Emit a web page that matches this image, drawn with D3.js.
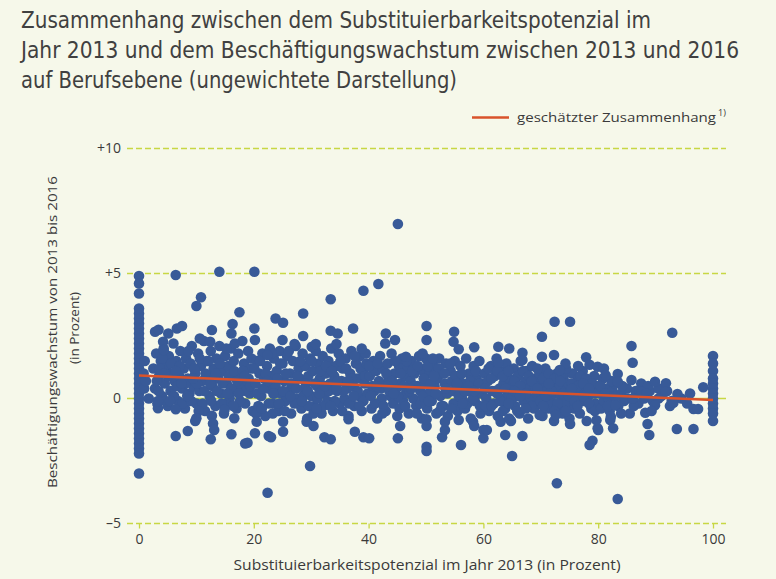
<!DOCTYPE html>
<html>
<head>
<meta charset="utf-8">
<script src="https://cdn.jsdelivr.net/npm/d3@7"></script>
<style>
html,body{margin:0;padding:0;background:#ffffff;}
svg{display:block;}
</style>
</head>
<body>
<div id="chart"></div>
<script>
// ---------- DATA ----------
const titleLines = [
  "Zusammenhang zwischen dem Substituierbarkeitspotenzial im",
  "Jahr 2013 und dem Beschäftigungswachstum zwischen 2013 und 2016",
  "auf Berufsebene (ungewichtete Darstellung)"
];
const legendLabel = "geschätzter Zusammenhang";
const legendNote = "1)";
const yAxisTitle = ["Beschäftigungswachstum von 2013 bis 2016", "(in Prozent)"];
const xAxisTitle = "Substituierbarkeitspotenzial im Jahr 2013 (in Prozent)";

const xTicks = [0, 20, 40, 60, 80, 100];
const xTickLabels = ["0", "20", "40", "60", "80", "100"];
const yTicks = [10, 5, 0, -5];
const yTickLabels = ["+10", "+5", "0", "\u20135"];

// estimated regression line (x, y)
const trendX = [0, 100];
const trendY = [0.92, -0.06];

// occupations with 0 % substitutability
const col0Y = [4.9, 4.6, 4.2, 3.6, 3.4, 3.2, 3.0, 2.8, 2.6, 2.4, 2.2, 2.0, 1.8, 1.6, 1.4, 1.2, 1.0, 0.8, 0.6, 0.4, 0.2, 0.0,
  -0.2, -0.4, -0.6, -0.8, -1.0, -1.2, -1.4, -1.6, -1.8, -2.0, -2.2, -3.0];
// occupations with 100 % substitutability
const col100Y = [1.7, 1.4, 1.1, 0.8, 0.6, 0.4, 0.2, 0.0, -0.2, -0.4, -0.6, -0.9];

// remaining occupations [x, y]
const pointsA = [[0.8,1.0],[0.9,0.4],[1.0,1.5],[1.2,0.7],[1.7,0.0],
  [2.5,1.2],[2.8,0.4],[3.0,1.8],[3.2,-0.2],[3.5,0.9],[3.8,1.5],[4.0,0.1],[4.3,2.0],[4.5,0.6],[4.8,1.3],[5.0,-0.3],[5.2,1.7],[5.5,0.3],[5.8,1.0],[6.0,2.2],[6.2,0.7],[6.5,1.5],[6.8,-0.1],[7.0,0.9],[7.2,1.9],[7.5,0.4],[7.8,1.2],[8.0,-0.4],[8.2,1.6],[8.5,0.8],[8.8,0.2],[9.0,1.4],[9.2,2.1],[9.5,0.5],[9.8,1.0],[10.0,-0.2],[10.3,1.8],[10.5,0.3],[10.8,1.3],[11.0,0.7],[11.3,2.3],[11.5,-0.5],[11.8,1.5],[12.0,0.9],[12.3,0.1],[12.5,1.9],[12.8,0.5],[13.0,1.2],[13.3,-0.3],[13.5,1.6],[13.8,0.8],[14.0,2.1],[14.3,0.2],[14.5,1.1],[14.8,-0.6],[15.0,1.7],[15.3,0.6],[15.5,1.3],[15.8,0.0],[16.0,2.0],[16.3,0.9],[16.5,1.5],[16.8,0.3],[17.0,-0.4],[17.3,1.8],[17.5,1.0],[17.8,0.5],[18.0,2.3],[18.3,1.4],[18.5,-0.2],[18.8,0.7],[19.0,1.9],[19.3,0.2],[19.5,1.2],[19.8,-0.5]];
const pointsA2 = [[3.1,0.7],[3.6,1.2],[4.1,1.6],[4.6,-0.1],[5.1,0.9],[5.6,1.4],[6.1,0.1],[6.6,0.5],[7.1,1.3],[7.6,-0.2],[8.1,0.6],[8.6,1.9],[9.1,-0.1],[9.6,1.2],[10.1,0.6],[10.6,1.6],[11.1,-0.2],[11.6,1.0],[12.1,1.5],[12.6,-0.1],[13.1,0.8],[13.6,0.3],[14.1,1.4],[14.6,0.6],[15.1,-0.2],[15.6,0.9],[16.1,0.4],[16.6,1.1],[17.1,0.7],[17.6,-0.1],[18.1,1.1],[18.6,0.3],[19.1,0.8],[19.6,1.6]];
const pointsA3 = [[3.4,0.3],[4.4,1.0],[5.4,-0.1],[6.4,1.1],[7.4,0.6],[8.4,0.1],[9.4,0.8],[10.4,-0.5],[11.4,0.3],[12.4,0.6],[13.4,1.0],[14.4,-0.2],[15.4,0.2],[16.4,-0.3],[17.4,0.2],[18.4,0.9],[19.4,0.5]];
const pointsB = [[20.3,0.6],[20.5,1.5],[20.8,-0.3],[21.0,1.0],[21.3,0.1],[21.5,1.8],[21.8,0.8],[22.0,-0.7],[22.3,1.3],[22.5,0.4],[22.8,2.0],[23.0,0.9],[23.3,-0.2],[23.5,1.6],[23.8,0.5],[24.0,1.1],[24.3,-0.5],[24.5,1.9],[24.8,0.2],[25.0,1.4],[25.3,0.7],[25.5,-0.1],[25.8,1.7],[26.0,0.3],[26.3,1.0],[26.5,-0.6],[26.8,1.5],[27.0,0.6],[27.3,2.1],[27.5,0.0],[27.8,1.2],[28.0,0.8],[28.3,-0.4],[28.5,1.8],[28.8,0.4],[29.0,1.3],[29.3,-0.8],[29.5,0.9],[29.8,1.6],[30.0,0.1],[30.3,1.1],[30.5,-0.3],[30.8,1.9],[31.0,0.5],[31.3,1.4],[31.5,0.8],[31.8,-0.6],[32.0,1.7],[32.3,0.2],[32.5,1.0],[32.8,-0.1],[33.0,1.5],[33.3,0.6],[33.5,2.0],[33.8,-0.5],[34.0,0.9],[34.3,1.3],[34.5,0.3],[34.8,1.8],[35.0,-0.2],[35.3,0.7],[35.5,1.2],[35.8,0.0],[36.0,1.6],[36.3,0.4],[36.5,-0.7],[36.8,1.0],[37.0,1.9],[37.3,0.5],[37.5,-0.3],[37.8,1.4],[38.0,0.8],[38.3,0.1],[38.5,1.7],[38.8,-0.5],[39.0,1.1],[39.3,0.6],[39.5,1.8],[39.8,0.2]];
const pointsB2 = [[20.1,1.2],[20.6,0.2],[21.1,1.5],[21.6,0.4],[22.1,1.0],[22.6,-0.2],[23.1,1.8],[23.6,0.2],[24.1,0.8],[24.6,1.4],[25.1,0.3],[25.6,1.0],[26.1,1.9],[26.6,0.6],[27.1,-0.2],[27.6,0.9],[28.1,1.5],[28.6,0.1],[29.1,0.6],[29.6,-0.3],[30.1,1.5],[30.6,0.6],[31.1,0.0],[31.6,1.1],[32.1,-0.3],[32.6,1.3],[33.1,0.3],[33.6,1.1],[34.1,-0.1],[34.6,0.7],[35.1,1.5],[35.6,0.3],[36.1,1.2],[36.6,-0.2],[37.1,0.8],[37.6,1.7],[38.1,0.3],[38.6,1.2],[39.1,-0.1],[39.6,1.4]];
const pointsB3 = [[20.4,-0.6],[21.4,-0.4],[22.4,0.7],[23.4,0.2],[24.4,-0.2],[25.4,-0.5],[26.4,0.1],[27.4,0.4],[28.4,-0.1],[29.4,0.3],[30.4,-0.6],[31.4,0.2],[32.4,0.5],[33.4,-0.3],[34.4,0.4],[35.4,-0.5],[36.4,0.7],[37.4,0.1],[38.4,-0.3],[39.4,0.9]];
const pointsC = [[40.2,0.9],[40.5,-0.4],[40.8,1.5],[41.0,0.3],[41.3,1.1],[41.5,-0.8],[41.8,0.7],[42.0,1.7],[42.3,0.0],[42.5,1.2],[42.8,0.5],[43.0,-0.5],[43.3,1.4],[43.5,0.8],[43.8,0.1],[44.0,1.8],[44.3,-0.2],[44.5,1.0],[44.8,0.4],[45.0,-0.7],[45.3,1.3],[45.5,0.6],[45.8,1.6],[46.0,-0.1],[46.3,0.9],[46.5,0.2],[46.8,1.2],[47.0,-0.6],[47.3,0.7],[47.5,1.5],[47.8,0.0],[48.0,1.0],[48.3,-0.3],[48.5,0.5],[48.8,1.7],[49.0,0.3],[49.3,-0.8],[49.5,1.1],[49.8,0.6],[50.0,1.6],[50.2,-0.4],[50.4,0.2],[50.6,1.0],[51.0,-0.1],[51.3,1.3],[51.5,0.5],[51.8,-0.6],[52.0,0.8],[52.3,1.6],[52.5,0.1],[52.8,1.0],[53.0,-0.3],[53.3,0.6],[53.5,1.4],[53.8,-0.7],[54.0,0.3],[54.3,1.1],[54.5,0.7],[54.8,-0.2],[55.0,1.5],[55.3,0.4],[55.5,-0.5],[55.8,0.9],[56.0,1.3],[56.3,0.0],[56.5,0.6],[56.8,-0.4],[57.0,1.6],[57.3,0.3],[57.5,1.0],[57.8,-0.8],[58.0,0.5],[58.3,1.3],[58.5,-0.1],[58.8,0.8],[59.0,0.2],[59.3,1.5],[59.5,-0.6],[59.8,0.6]];
const pointsC2 = [[40.1,1.3],[40.6,0.5],[41.1,-0.2],[41.6,1.4],[42.1,0.4],[42.6,-0.3],[43.1,1.0],[43.6,0.3],[44.1,0.7],[44.6,1.5],[45.1,0.1],[45.6,1.0],[46.1,0.5],[46.6,1.5],[47.1,0.3],[47.6,1.1],[48.1,0.5],[48.6,1.3],[49.1,-0.2],[49.6,0.8],[50.3,1.3],[50.8,0.6],[51.2,1.6],[51.7,0.2],[52.2,1.2],[52.7,-0.3],[53.2,1.0],[53.7,0.2],[54.2,1.4],[54.7,0.3],[55.2,0.9],[55.7,0.1],[56.2,1.0],[56.7,0.3],[57.2,-0.2],[57.7,0.7],[58.2,0.0],[58.7,1.1],[59.2,0.6],[59.7,0.2]];
const pointsC3 = [[40.4,0.1],[41.4,0.5],[42.4,-0.6],[43.4,0.5],[44.4,0.2],[45.4,-0.4],[46.4,-0.3],[47.4,0.4],[48.4,-0.6],[49.4,0.1],[50.5,-0.1],[51.4,0.9],[52.4,-0.5],[53.4,0.4],[54.4,-0.4],[55.4,0.6],[56.4,-0.2],[57.4,0.5],[58.4,0.3],[59.4,-0.3]];
const pointsD = [[60.2,1.0],[60.5,0.0],[60.8,0.7],[61.0,-0.5],[61.3,1.3],[61.5,0.3],[61.8,-0.2],[62.0,0.9],[62.3,1.6],[62.5,-0.7],[62.8,0.4],[63.0,1.1],[63.3,0.0],[63.5,0.6],[63.8,-0.4],[64.0,1.4],[64.3,0.2],[64.5,0.8],[64.8,-0.9],[65.0,0.5],[65.3,1.2],[65.5,-0.3],[65.8,0.1],[66.0,0.9],[66.3,-0.6],[66.5,1.5],[66.8,0.3],[67.0,-0.1],[67.3,0.7],[67.5,1.1],[67.8,-0.8],[68.0,0.4],[68.3,0.0],[68.5,1.3],[68.8,-0.4],[69.0,0.8],[69.3,0.2],[69.5,-0.2],[69.8,1.0],[70.0,0.5],[70.3,-0.7],[70.5,0.0],[70.8,1.2],[71.0,0.3],[71.3,-0.4],[71.5,0.8],[71.8,-0.1],[72.0,0.6],[72.3,-0.9],[72.5,0.2],[72.8,1.0],[73.0,-0.3],[73.3,0.5],[73.5,0.1],[73.8,-0.6],[74.0,0.9],[74.3,0.3],[74.5,-0.2],[74.8,0.6],[75.0,-0.8],[75.3,0.2],[75.5,1.0],[75.8,-0.4],[76.0,0.4],[76.3,0.0],[76.5,0.8],[76.8,-0.6],[77.0,0.3],[77.3,1.1],[77.5,-0.1],[77.8,0.5],[78.0,-0.9],[78.3,0.1],[78.5,0.7],[78.8,-0.4],[79.0,0.3],[79.3,0.9],[79.5,-0.2],[79.8,0.5]];
const pointsD2 = [[60.3,0.4],[60.9,1.2],[61.4,0.8],[61.9,0.3],[62.4,1.1],[62.9,-0.1],[63.4,0.9],[63.9,0.4],[64.4,1.1],[64.9,0.0],[65.4,0.7],[65.9,-0.5],[66.4,0.5],[66.9,1.1],[67.4,0.2],[67.9,0.9],[68.4,-0.3],[68.9,0.5],[69.4,1.2],[69.9,-0.1],[70.4,0.8],[70.9,0.1],[71.4,1.0],[71.9,0.3],[72.4,0.8],[72.9,-0.2],[73.4,0.9],[73.9,0.2],[74.4,1.2],[74.9,0.1],[75.4,0.6],[75.9,-0.1],[76.4,0.5],[76.9,0.9],[77.4,0.1],[77.9,0.8],[78.4,-0.2],[78.9,0.6],[79.4,0.2],[79.9,-0.4]];
const pointsD3 = [[60.4,-0.3],[61.4,-0.3],[62.4,0.2],[63.4,-0.5],[64.4,-0.2],[65.4,0.3],[66.4,0.1],[67.4,-0.4],[68.4,0.7],[69.4,0.4],[70.4,-0.3],[71.4,0.6],[72.4,-0.5],[73.4,0.7],[74.4,-0.5],[75.4,0.4],[76.4,-0.3],[77.4,0.6],[78.4,0.4],[79.4,-0.5]];
const pointsE = [[80.3,0.2],[80.5,-0.4],[80.8,0.8],[81.0,-0.1],[81.5,0.4],[81.8,0.0],[82.0,-0.5],[82.5,0.3],[83.0,0.6],[83.5,-0.3],[84.0,0.2],[84.5,-0.1],[85.0,0.4],[85.5,-0.6],[86.5,0.3],[87.0,-0.2],[87.5,0.6],[88.0,0.0],[89.0,0.3],[89.5,-0.1],[90.5,0.4],[91.0,0.1],[92.0,0.3],[92.5,-0.3],[94.5,0.0],[95.5,-0.2],[96.0,0.2],
  [80.4,0.5],[81.2,0.2],[81.7,-0.3],[82.3,0.7],[82.8,0.1],[84.2,0.5],[85.2,0.0],[86.2,-0.3],[87.2,0.3],[88.7,0.5]];
const pointsHigh = [[6.4,4.94],[14.0,5.07],[20.1,5.07],[10.8,4.05],[10.0,3.7],[17.5,3.45],[2.8,2.67],[3.4,2.75],[5.1,2.6],[6.6,2.8],[7.5,2.9],[12.7,2.74],[16.3,2.98],[16.1,2.6],[10.6,2.4],[4.2,2.27],[12.4,2.27],[16.7,2.2],[4.3,1.94],[15.2,2.0],
  [39.1,4.31],[33.4,3.97],[28.6,3.4],[23.8,3.2],[25.1,3.03],[20.1,2.8],[28.6,2.5],[33.4,2.71],[34.6,2.6],[37.3,2.8],[25.0,2.34],[27.1,2.18],[30.1,2.07],[30.8,2.18],[34.4,2.18],[20.2,2.34],[22.4,1.74],[38.8,2.0],
  [45.1,6.98],[41.7,4.58],[50.1,2.9],[50.1,2.34],[43.0,2.6],[42.9,2.2],[44.6,2.34],[54.9,2.67],[54.8,2.27],[55.7,1.97],[58.4,2.05],[46.5,1.67],[49.4,1.8],
  [72.4,3.07],[75.1,3.07],[70.2,2.47],[62.6,2.07],[64.5,2.0],[66.8,1.83],[66.8,1.54],[70.2,1.67],[72.3,1.74],[62.6,1.43],[74.3,1.4],[76.5,1.3],[77.9,1.65],[78.5,1.35],[79.9,1.27],[73.3,1.14],[81.0,1.2],
  [92.9,2.63],[85.8,2.1],[86.0,1.43],[85.8,0.74],[83.4,0.98],[83.4,0.67],[81.3,0.93],[89.9,0.67],[91.8,0.61],[87.6,0.27],[88.4,0.2],[91.7,0.27],[93.8,0.18],[98.3,0.45],[90.5,0.0],[92.8,-0.1],[89.9,-0.27],[93.1,-0.17],[83.0,0.07],[83.0,-0.27],[84.7,0.0],[86.0,0.0]];
const pointsLow = [[3.3,-0.39],[3.3,-0.1],[6.4,-0.43],[10.0,-0.79],[9.8,-0.9],[12.7,-0.69],[12.9,-1.0],[13.1,-1.26],[6.4,-1.5],[8.5,-1.3],[12.5,-1.63],[16.1,-1.43],[16.6,-0.79],[14.9,-0.45],[18.5,-1.8],
  [20.5,-0.93],[20.2,-1.39],[18.9,-1.77],[22.6,-1.5],[23.0,-1.55],[25.1,-0.93],[25.1,-1.33],[23.3,-0.6],[29.2,-0.93],[30.4,-1.1],[32.3,-1.55],[33.4,-1.63],[29.8,-2.7],[22.4,-3.77],[36.5,-0.83],[37.6,-1.33],[39.1,-1.55],[30.9,-0.4],
  [40.1,-1.59],[45.1,-1.59],[45.5,-1.1],[50.1,-1.1],[50.1,-0.83],[50.1,-1.93],[50.1,-2.1],[52.8,-1.55],[53.3,-1.26],[56.1,-1.86],[58.2,-0.93],[58.4,-1.1],[60.0,-1.26],[60.0,-1.59],[55.7,-0.86],[53.3,-0.93],
  [60.6,-1.26],[63.8,-1.46],[66.8,-1.5],[65.0,-2.3],[72.8,-3.39],[75.1,-1.02],[79.9,-1.19],[79.0,-1.69],[78.5,-1.86],[69.8,-0.66],[72.6,-0.66],[63.0,-0.93],[64.5,-0.8],[79.7,-0.87],[80.0,-1.26],
  [84.0,-0.6],[82.2,-0.73],[82.1,-0.86],[82.6,-1.19],[88.2,-0.57],[89.3,-0.5],[88.6,-1.02],[88.9,-1.46],[93.7,-1.22],[96.6,-1.22],[96.6,-0.42],[97.4,-0.42],[83.4,-4.02]];

// ---------- CHART ----------
const W = 776, H = 579;
const svg = d3.select("#chart").append("svg").attr("width", W).attr("height", H)
  .style("font-family", "'Liberation Sans Narrow','DejaVu Sans Condensed','Liberation Sans',sans-serif");

svg.append("rect").attr("x", 0).attr("y", 0).attr("width", W).attr("height", H).attr("fill", "#f6f8ea");

const x = d3.scaleLinear().domain([0, 100]).range([139, 713]);
const y = d3.scaleLinear().domain([-5, 10]).range([523.5, 148.5]);

const gridColor = "#c8d744";
const textColor = "#3a3a3a";

// title
const titleY = [28, 58, 88];
const titleLen = [630, 718, 436];
svg.append("g").selectAll("text").data(titleLines).join("text")
  .attr("x", 21).attr("y", (d, i) => titleY[i])
  .attr("textLength", (d, i) => titleLen[i]).attr("lengthAdjust", "spacingAndGlyphs")
  .attr("font-size", 23).attr("fill", "#404040")
  .text(d => d);

// gridlines
svg.append("g").selectAll("line").data(yTicks).join("line")
  .attr("x1", 127).attr("x2", 726)
  .attr("y1", d => y(d)).attr("y2", d => y(d))
  .attr("stroke", gridColor).attr("stroke-width", 1.3)
  .attr("stroke-dasharray", d => d === 0 ? null : "6,3");

// y axis
const yAxis = svg.append("g").attr("transform", "translate(123,0)")
  .call(d3.axisLeft(y).tickValues(yTicks).tickFormat((d, i) => yTickLabels[i]).tickSize(0).tickPadding(2));
yAxis.select(".domain").remove();
yAxis.selectAll("text").attr("font-size", 14).attr("fill", textColor)
  .style("font-family", "'Open Sans','DejaVu Sans',sans-serif");

// x axis
const xAxis = svg.append("g").attr("transform", `translate(0,${y(-5)})`)
  .call(d3.axisBottom(x).tickValues(xTicks).tickFormat((d, i) => xTickLabels[i]).tickSize(5).tickPadding(6));
xAxis.select(".domain").remove();
xAxis.selectAll("line").attr("stroke", gridColor).attr("stroke-width", 1.3);
xAxis.selectAll("text").attr("font-size", 14).attr("fill", textColor)
  .style("font-family", "'Open Sans','DejaVu Sans',sans-serif");

// axis titles
svg.append("text").attr("x", 427).attr("y", 570).attr("text-anchor", "middle")
  .attr("font-size", 14).attr("fill", textColor)
  .attr("textLength", 387).attr("lengthAdjust", "spacingAndGlyphs")
  .style("font-family", "'Open Sans','DejaVu Sans',sans-serif")
  .text(xAxisTitle);
const yt = svg.append("g").attr("transform", "translate(52,332) rotate(-90)")
  .style("font-family", "'Open Sans','DejaVu Sans',sans-serif");
yt.append("text").attr("x", 0).attr("y", 5).attr("text-anchor", "middle")
  .attr("font-size", 13.5).attr("fill", textColor)
  .attr("textLength", 312).attr("lengthAdjust", "spacingAndGlyphs")
  .text(yAxisTitle[0]);
yt.append("text").attr("x", 4).attr("y", 27).attr("text-anchor", "middle")
  .attr("font-size", 13.5).attr("fill", textColor)
  .text(yAxisTitle[1]);

// points
const allPts = []
  .concat(col0Y.map(v => [0, v]))
  .concat(pointsA, pointsA2, pointsA3, pointsB, pointsB2, pointsB3, pointsC, pointsC2, pointsC3,
          pointsD, pointsD2, pointsD3, pointsE, pointsHigh, pointsLow)
  .concat(col100Y.map(v => [100, v]));
svg.append("g").selectAll("circle").data(allPts).join("circle")
  .attr("cx", d => x(d[0])).attr("cy", d => y(d[1])).attr("r", 5.3)
  .attr("fill", "#385a98");

// trend line
const trendColor = "#d9532b";
svg.append("path")
  .datum(trendX.map((v, i) => [v, trendY[i]]))
  .attr("d", d3.line().x(d => x(d[0])).y(d => y(d[1])))
  .attr("stroke", trendColor).attr("stroke-width", 2.5).attr("fill", "none");

// legend
svg.append("line").attr("x1", 472).attr("x2", 509).attr("y1", 117.5).attr("y2", 117.5)
  .attr("stroke", trendColor).attr("stroke-width", 2.5);
svg.append("text").attr("x", 517).attr("y", 122).attr("font-size", 13).attr("fill", textColor)
  .attr("textLength", 199).attr("lengthAdjust", "spacingAndGlyphs")
  .style("font-family", "'Open Sans','DejaVu Sans',sans-serif")
  .text(legendLabel);
svg.append("text").attr("x", 718).attr("y", 116).attr("font-size", 9).attr("fill", textColor)
  .style("font-family", "'Open Sans','DejaVu Sans',sans-serif")
  .text(legendNote);
</script>
</body>
</html>
